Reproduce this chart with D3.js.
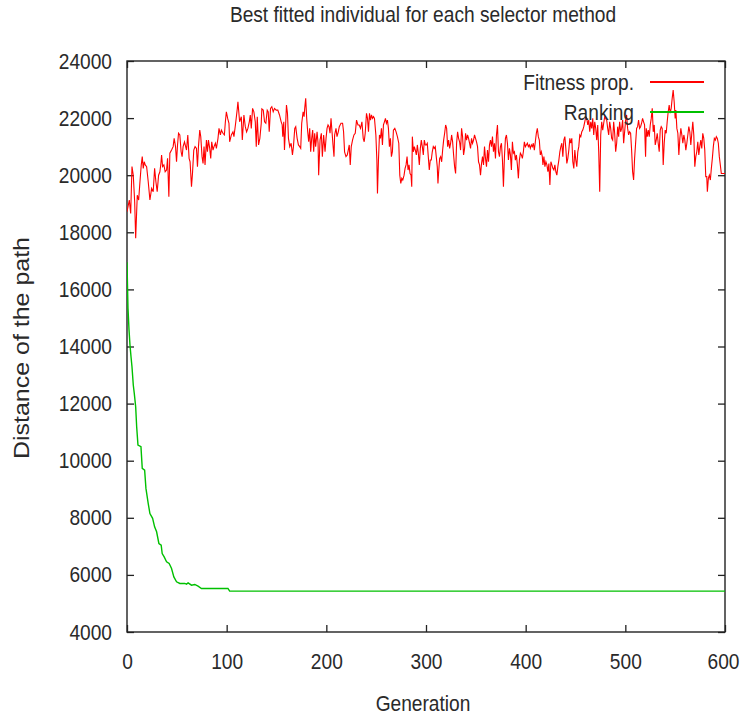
<!DOCTYPE html>
<html>
<head>
<meta charset="utf-8">
<script src="https://cdn.jsdelivr.net/npm/d3@7"></script>
<style>
  html, body { margin: 0; padding: 0; background: #fff; }
  svg { display: block; }
  text { font-family: "Liberation Sans", Arial, sans-serif; fill: #2a2a2a; }
</style>
</head>
<body>
<svg id="chart" width="742" height="719"></svg>
<script>
// ---- chart text ----
const titleText = "Best fitted individual for each selector method";
const xLabel = "Generation";
const yLabel = "Distance of the path";
const seriesNames = ["Fitness prop.", "Ranking"];

// ---- tick values ----
const xTicks = [0, 100, 200, 300, 400, 500, 600];
const yTicks = [4000, 6000, 8000, 10000, 12000, 14000, 16000, 18000, 20000, 22000, 24000];

// ---- best individual per generation: [generation, path distance] ----
const fitnessProp = [
  [0,18720],[2.3,19130],[3.7,18660],[5,20300],[6.3,20000],[7.7,19070],[8.7,17790],[10.3,19300],[11.7,19130],[13,19770],
  [14.3,20360],[15.3,20650],[16.3,20240],[17.3,20470],[18.3,20360],[19.7,20300],[21.3,19770],[23,19130],[24.7,19540],[26.3,19420],
  [27.7,20240],[29,19770],[30.3,19420],[31.7,20000],[33,20120],[34,20410],[34.7,20710],[35.7,20300],[37,20360],[38.3,20120],
  [39.7,20180],[40.7,20590],[42,19250],[43,20770],[44.7,20880],[46.3,21000],[47.3,21290],[48.7,21000],[49.7,20470],[50.7,21060],
  [51.7,21470],[53,21410],[54.3,20820],[55.3,20650],[56.3,21000],[57.7,21170],[59.7,20880],[61,21410],[62.3,20590],[63.3,20470],
  [64.7,19600],[65.7,20060],[67,20880],[68.3,21000],[69.7,20940],[70.7,20300],[71.7,21000],[73,21580],[74,21350],[75.3,20650],
  [76.3,20410],[77.3,21000],[78.3,20360],[79.7,21230],[80.7,20820],[81.7,21230],[83,20940],[84,20590],[85,21170],[86.3,20880],
  [87.3,21000],[88.7,21120],[89.7,20940],[91.3,21290],[92.3,21640],[93.7,21410],[94.7,21580],[96.3,21470],[97.7,21410],[98.7,21870],
  [99.7,22220],[101,21990],[102.3,21820],
  [103,21170],[104.7,21410],[106.3,21520],[107.3,21350],[109,21820],[110.7,22340],[111.3,22575],[113,21870],[114.7,22050],[115.7,21230],
  [117.3,22110],[118.7,21700],[120,21520],[121.3,21640],[122.7,21870],[123.7,22110],[124.7,21640],[126,22340],[127.3,22220],[128.7,21870],
  [129.7,21000],[130.7,22050],[132,21060],[133.3,21290],[134.7,21820],[135.3,22320],[136.7,22280],[138,21870],[139.3,21820],[140.7,22280],
  [141.7,22220],[142.7,21520],[144,22340],[145.3,22400],[146.7,22220],[148,22340],[149.7,22280],[151.3,22280],[153,22110],[154.7,21870],
  [155.7,21760],[156.3,21350],[157.3,21870],[158,20880],[159,21640],[160,22460],[161,22170],[162,21290],[163.3,21000],[164.7,21120],
  [166,20710],[167,21000],[168.3,21640],[169.3,21700],[170.7,21290],[172,21060],[173.3,21000],[174.3,20940],[175.3,21820],[176.7,22220],
  [177.7,22050],[178.3,22340],[179.3,22690],[180.3,21990],[181.3,21520],[182.3,21170],[183.3,21640],[184.3,20820],[185.3,21290],[186.3,21580],
  [187.3,20820],[188.3,21470],[189.3,21000],[190.7,21520],[191.7,21120],[192.3,20000],[193.7,21230],[195,21470],[196,20650],[197.3,21410],
  [198.7,20820],[199.7,21290],[200.7,21640],[201.7,21760],[202.7,21700],[203.7,21470],[204.7,21990],[205.7,21520],[206.7,21060],[207.7,20650],
  [208.3,21410],[209.7,21640],[210.7,21350],[212,21520],[213,21700],[214.7,21820],[216.3,21820],[217.3,21520],[218.3,20820],[219.7,20650],
  [221,20710],[222,20880],[223,21060],[224,20360],[225,21000],[226.3,21230],[227.7,21410],[229,21470],[230.3,21930],[231.7,21760],
  [233,21760],[234.3,21640],[235.7,21870],[237,21290],[238,21170],[239,21470],[240.3,22170],[241.3,21990],[242.3,21520],[243.3,22170],
  [244.3,21930],[245.3,22110],[246.3,21990],[247.3,22050],[248.3,21990],[249.7,21410],[250.7,20530],[251.3,19360],[252.3,20530],[253.3,21410],
  [254.3,21290],[255.3,21640],[256.3,21060],[257.3,21760],[258.3,21870],[259.3,21990],[260.3,21820],[261.3,21930],[262.3,21640],[263.3,21000],
  [264.3,21290],[265.3,20650],[266.3,20820],[267.3,21580],[268.7,21640],[270,21520],[271.3,21350],[272.7,21120],[273.7,20000],[274.7,19710],
  [275.7,19890],[276.7,19830],[278,20000],[279,20240],[280,20360],[281,20650],[282,20180],[283,20360],[284,20060],[285,20000],
  [285.7,19600],[286.3,21350],[287.3,20820],[288.3,21000],[289.3,20880],[290.3,20710],[291.3,21060],[292.3,20770],[293.3,20360],[294.3,20940],
  [295.3,21230],[296.3,21000],[297.3,20710],[298.3,21230],[299.3,21060],[300.3,21060],[301.3,21120],[302.3,20650],[303.3,20180],[304.3,20530],
  [305.3,20530],[306.3,20820],[307.3,21000],[308.3,20940],[309.3,21000],[310.3,20650],[311.3,20300],[312,19710],
  [312.7,20120],[313.7,20590],[314.7,20650],[315.7,20470],[316.7,20880],[317.7,21230],[318.7,21470],[319.7,21760],[320.7,21640],[321.7,21000],
  [322.7,21230],[323.7,20940],[324.7,21120],[325.7,21410],[326.7,21170],[327.7,20710],[328.7,20300],[329.7,20060],[330.7,21120],[331.7,21520],
  [332.7,21290],[333.7,21170],[334.7,20880],[335.7,21640],[336.7,21350],[337.7,20710],[338.7,20940],[339.7,21470],[340.7,21230],[341.7,21410],
  [342.7,21290],[343.7,21120],[344.7,20940],[345.7,21290],[346.7,21120],[347.7,21230],[348.7,21410],[349.7,21290],[350.7,21170],[351.7,21000],
  [352.7,20470],[353.7,20360],[354.7,20000],[355.7,20410],[356.7,20650],[357.7,20360],[358.7,21000],[359.7,20590],[360.7,20300],[361.7,20880],
  [362.7,20470],[363.7,21060],[364.7,21230],[365.7,21000],[366.7,21350],[367.7,20820],[368.7,21120],[369.7,20590],[370.7,21410],[371.7,21760],
  [372.7,20820],[373.7,20650],[374.7,21000],[375.7,21120],[376.7,20530],[377.7,19600],[378.7,20650],[379.7,21290],[380.7,21410],[381.7,21120],
  [382.7,20530],[383.7,20940],[384.7,20710],[385.7,20180],[386.7,21170],[387.7,20770],[388.7,20820],[389.7,20530],[390.7,20710],[391.7,20360],
  [392.7,19890],[393.7,20530],[394.7,20770],[395.7,20710],[396.7,20590],[397.7,20820],[398.7,21170],[399.7,21000],[400.7,21060],[401.7,21120],
  [402.7,21000],[403.7,21060],[404.7,20940],[405.7,21060],[406.7,21000],[407.7,21120],[408.7,20880],[409.7,21170],[410.7,21470],[411.7,21640],
  [412.7,21350],[413.7,21230],[414.7,20710],[415.7,20820],[416.7,20650],
  [417.3,20360],[418.3,20650],[419.3,20300],[420.3,20470],[421.3,20360],[422.3,20120],[423.3,20410],[424.3,19660],[425.3,20470],[426.3,20360],
  [427.3,20240],[428.3,20180],[429.3,20360],[430.3,20120],[431.3,20000],[432.3,20300],[433.3,20530],[434.3,20820],[435.3,21000],[436.3,21120],
  [437.3,20650],[438.3,21230],[439.3,21350],[440.3,20940],[441.3,20410],[442.3,20590],[443.3,20880],[444.3,21290],[445.3,21120],[446.3,21290],
  [447.3,20470],[448.3,20240],[449.3,20880],[450.3,20530],[451.3,20300],[452.3,20820],[453.3,21000],[454.3,21410],[455.3,21350],[456.3,21520],
  [457.3,21580],[458.3,21700],[459.3,21870],[460.3,22050],[461.3,21990],[462.3,21760],[463.3,21930],[464.3,21520],[465.3,21870],[466.3,21640],
  [467.3,21990],[468.3,21410],[469.3,21870],[470.3,21640],[471.3,21230],[472.3,21760],[473.3,20820],[474.3,19420],[475.3,21410],[476.3,21870],
  [477.3,21580],[478.3,21820],[479.3,22050],[480.3,21990],[481.3,21930],[482.3,21640],[483.3,21410],[484.3,21870],[485.3,21640],[486.3,21290],
  [487.3,21230],[488.3,21870],[489.3,21470],[490.3,20820],[491.3,21120],[492.3,21700],[493.3,21350],[494.3,21870],[495.3,21520],[496.3,21640],
  [497.3,21930],[498.3,21120],[499.3,21520],[500.3,21930],[501.3,22110],[502.3,21640],[503.3,21410],[504.3,21520],[505.3,21470],[506.3,20880],
  [507.3,20120],[508.3,19830],[509.3,20590],[510.3,21120],[511.3,21640],[512.3,21700],[513.3,21930],[514.3,21640],[515.3,21700],[516.3,21820],
  [517.3,21990],[518.3,21870],[519.3,21760],[520.3,20650],
  [521,21640],[522,21350],[523,21580],[524,21350],[525,21760],[526,21990],[527,22340],[528,21520],[529,21760],[530,21060],
  [531,21230],[532,21470],[533,21120],[534,20820],[535,21580],[536,21700],[537,21640],[538,20360],[539,21120],[540,21580],
  [541,21470],[542,21870],[543,22220],[544,22460],[545,22170],[546,22340],[547,22690],[548,22980],[549,22575],[550,21990],
  [550.7,22280],[551.7,21640],[552.7,21470],[553.7,20710],[554.7,21290],[555.7,21640],[556.7,21410],[557.7,21120],[558.7,21410],[559.7,21230],
  [560.7,20880],[561.7,21120],[562.7,21410],[563.7,21700],[564.7,21520],[565.7,21060],[566.7,21470],[567.7,21870],[568.7,21410],[569.7,20300],
  [570.7,20650],[571.7,20820],[572.7,21170],[573.7,20710],[574.7,21000],[575.7,21230],[576.7,20940],[577.7,21470],[578.7,21290],[579.7,20880],
  [580.7,19950],[581.7,19950],[582.3,19420],[583.3,19890],[584.3,20000],[585.3,19830],[586.3,20240],[587.3,20590],[588.3,21000],[589.3,21290],
  [590.3,21230],[591.3,21350],[592.3,21290],[593.3,21120],[594.3,20650],[595.3,20360],[596.3,20060],[600,20060]
];

const ranking = [
  [0,16950],[1,15340],[2,14600],[3,14050],[4,13650],[5,13290],[6.3,12650],[7.3,12360],[8.7,11890],[9.7,11190],[11,10550],
  [14,10490],[15.3,9730],[17.7,9670],[19,9030],[21.3,8500],[23,8150],[25.7,7980],[27.7,7685],[29.7,7510],[32,7100],
  [34.3,7040],[35.3,6750],[37.3,6630],[39.7,6460],[42.3,6400],[44.7,6225],[47,5930],[49.7,5760],[53,5700],[58,5700],
  [59.7,5676],[61.3,5720],[64.7,5640],[68,5665],[71.3,5605],[74.7,5525],[101.3,5525],[103,5430],[600,5430]
];

const seriesColors = ["#ff0000", "#00c000"];

// ---- layout ----
const svg = d3.select("#chart");
const plot = { left: 127, right: 725, top: 61, bottom: 632 };
const x = d3.scaleLinear().domain([0, 600]).range([plot.left, plot.right]);
const y = d3.scaleLinear().domain([4000, 24000]).range([plot.bottom, plot.top]);
const FONT = 22;
const SQUEEZE = 0.87;

// narrows horizontal text to the condensed look of the original terminal font
function squeeze(sel) {
  sel.each(function () {
    const len = this.getComputedTextLength();
    this.setAttribute("textLength", (len * SQUEEZE).toFixed(2));
    this.setAttribute("lengthAdjust", "spacingAndGlyphs");
  });
}

svg.append("defs").append("clipPath").attr("id", "plotClip")
  .append("rect")
  .attr("x", plot.left).attr("y", plot.top)
  .attr("width", plot.right - plot.left).attr("height", plot.bottom - plot.top);

// ---- axes (ticks point inward, mirrored on top/right) ----
const TICK = 7;
const gx = svg.append("g").attr("transform", `translate(0,${plot.bottom})`)
  .call(d3.axisBottom(x).tickValues(xTicks).tickFormat(d3.format("d"))
    .tickSizeInner(-TICK).tickSizeOuter(0).tickPadding(21));
const gy = svg.append("g").attr("transform", `translate(${plot.left},0)`)
  .call(d3.axisLeft(y).tickValues(yTicks).tickFormat(d3.format("d"))
    .tickSizeInner(-TICK).tickSizeOuter(0).tickPadding(15));
const gxTop = svg.append("g").attr("transform", `translate(0,${plot.top})`)
  .call(d3.axisTop(x).tickValues(xTicks).tickFormat("").tickSizeInner(-TICK).tickSizeOuter(0));
const gyRight = svg.append("g").attr("transform", `translate(${plot.right},0)`)
  .call(d3.axisRight(y).tickValues(yTicks).tickFormat("").tickSizeInner(-TICK).tickSizeOuter(0));

[gx, gy, gxTop, gyRight].forEach(g => {
  g.select(".domain").remove();
  g.selectAll(".tick line").attr("stroke", "#222").attr("stroke-width", 1.3);
  g.selectAll(".tick text")
    .attr("font-family", '"Liberation Sans", Arial, sans-serif')
    .attr("font-size", FONT).attr("fill", "#2a2a2a");
});
squeeze(gx.selectAll(".tick text"));
squeeze(gy.selectAll(".tick text"));
// keep the last x label inside the canvas edge
gx.selectAll(".tick text").filter(d => d === xTicks[xTicks.length - 1]).attr("dx", -2);

// plot frame
svg.append("rect")
  .attr("x", plot.left).attr("y", plot.top)
  .attr("width", plot.right - plot.left).attr("height", plot.bottom - plot.top)
  .attr("fill", "none").attr("stroke", "#222").attr("stroke-width", 1.4);

// ---- titles ----
svg.append("text")
  .attr("x", 423).attr("y", 22).attr("text-anchor", "middle")
  .attr("font-size", FONT).text(titleText).call(squeeze);

svg.append("text")
  .attr("x", 423).attr("y", 711).attr("text-anchor", "middle")
  .attr("font-size", FONT).text(xLabel).call(squeeze);

svg.append("text")
  .attr("transform", "translate(29,348) rotate(-90)")
  .attr("text-anchor", "middle")
  .attr("font-size", FONT)
  .attr("textLength", 222).attr("lengthAdjust", "spacingAndGlyphs")
  .text(yLabel);

// ---- series with their key entries ----
const line = d3.line().x(d => x(d[0])).y(d => y(d[1]));
const series = [fitnessProp, ranking];
const widths = [1.1, 1.4];
const keyY = [82, 112];

series.forEach((data, i) => {
  svg.append("text")
    .attr("x", 634).attr("y", keyY[i] + 8).attr("text-anchor", "end")
    .attr("font-size", FONT).text(seriesNames[i]).call(squeeze);
  svg.append("line")
    .attr("x1", 650).attr("x2", 704).attr("y1", keyY[i]).attr("y2", keyY[i])
    .attr("stroke", seriesColors[i]).attr("stroke-width", 1.8);
  svg.append("path")
    .datum(data)
    .attr("clip-path", "url(#plotClip)")
    .attr("fill", "none")
    .attr("stroke", seriesColors[i])
    .attr("stroke-width", widths[i])
    .attr("stroke-linejoin", "miter")
    .attr("d", line);
});
</script>
</body>
</html>
